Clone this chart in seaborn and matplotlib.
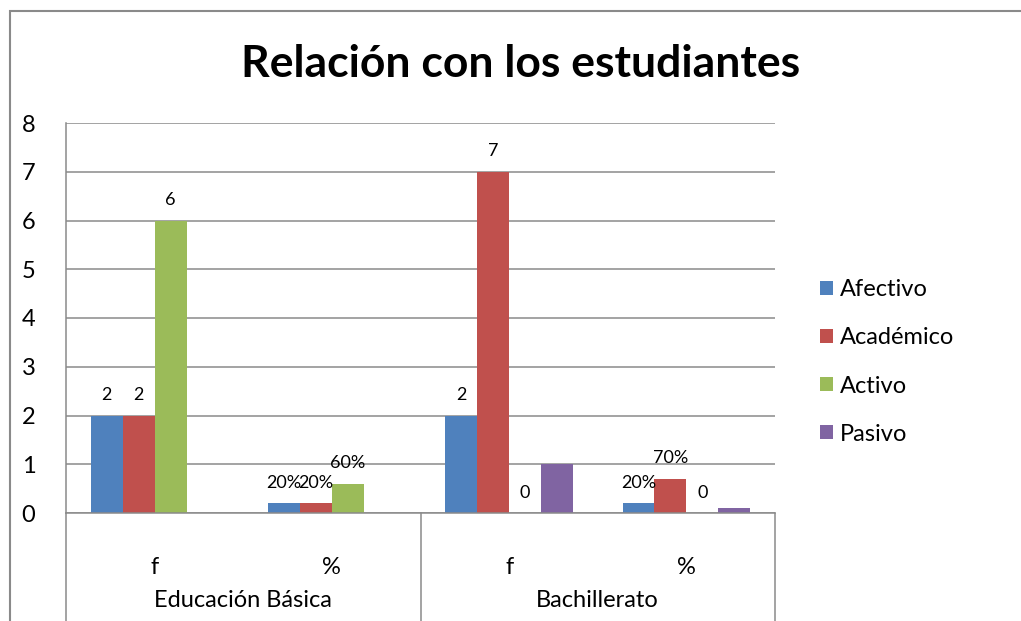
import numpy as np
import pandas as pd
import seaborn as sns
import matplotlib.pyplot as plt
from matplotlib.patches import Rectangle

# ---- data ----
groups = ["Educación Básica", "Educación Básica", "Bachillerato", "Bachillerato"]
measures = ["f", "%", "f", "%"]
series = ["Afectivo", "Académico", "Activo", "Pasivo"]
afectivo = [2, 0.2, 2, 0.2]
academico = [2, 0.2, 7, 0.7]
activo = [6, 0.6, 0, 0]
pasivo = [np.nan, np.nan, 1, 0.1]
labels_afectivo = ["2", "20%", "2", "20%"]
labels_academico = ["2", "20%", "7", "70%"]
labels_activo = ["6", "60%", "0", "0"]
yticks = [0, 1, 2, 3, 4, 5, 6, 7, 8]
colors = ["#4F81BD", "#C0504D", "#9BBB59", "#8064A2"]
title = "Relación con los estudiantes"

cats = [f"{g}|{m}" for g, m in zip(groups, measures)]
rows = []
for s, vals in zip(series, [afectivo, academico, activo, pasivo]):
    for c, v in zip(cats, vals):
        rows.append({"cat": c, "serie": s, "valor": v})
df = pd.DataFrame(rows)

sns.set_theme(style="white")
plt.rcParams['font.family'] = ['Lato', 'DejaVu Sans']
plt.rcParams['text.color'] = 'black'
plt.rcParams['xtick.color'] = 'black'
plt.rcParams['ytick.color'] = 'black'

fig = plt.figure(figsize=(10.21, 6.21), dpi=100)
ax = fig.add_axes([66/1021, 1-513/621, (775-66)/1021, 390/621])

sns.barplot(data=df, x="cat", y="valor", hue="serie", order=cats,
            hue_order=series, palette=colors, width=0.72, linewidth=0,
            saturation=1, ax=ax, errorbar=None, legend=True)

ax.set_xlim(-0.5, len(cats) - 0.5)
ax.set_ylim(yticks[0], yticks[-1])
ax.set_yticks(yticks)
ax.set_yticklabels([str(t) for t in yticks], fontsize=17)
ax.tick_params(axis="y", length=0, pad=22)
ax.yaxis.grid(True, color="#8a8a8a", linewidth=1.1)
ax.set_axisbelow(True)
ax.set_xlabel("")
ax.set_ylabel("")
ax.set_xticks(range(len(cats)))
ax.set_xticklabels(measures, fontsize=17)
ax.tick_params(axis="x", length=0, pad=32)
for sp in ["top", "right"]:
    ax.spines[sp].set_visible(False)
for sp in ["left", "bottom"]:
    ax.spines[sp].set_color("#8a8a8a")
    ax.spines[sp].set_linewidth(1.1)

# data labels
for cont, labs in zip(ax.containers[:3], [labels_afectivo, labels_academico, labels_activo]):
    ax.bar_label(cont, labels=labs, padding=9, fontsize=13, color="black")

# category axis box: separators and group labels
uniq = []
for g in groups:
    if g not in uniq:
        uniq.append(g)
n = len(cats)
bounds = [0]
for g in uniq:
    idx = [i for i, gg in enumerate(groups) if gg == g]
    bounds.append((max(idx) + 1) / n)
    ax.text((min(idx) + max(idx)) / 2, -0.225, g, transform=ax.get_xaxis_transform(),
            ha="center", va="center", fontsize=17)
for b in bounds:
    ax.plot([b, b], [0, -0.35], transform=ax.transAxes, color="#8a8a8a",
            linewidth=1.1, clip_on=False)

# legend
handles, labels = ax.get_legend_handles_labels()
ax.legend_.remove()
fig.legend(handles, labels, loc="center left", bbox_to_anchor=(0.782, 1-362/621),
           frameon=False, fontsize=17, handlelength=0.55, handleheight=0.55,
           handletextpad=0.3, labelspacing=1.15)

fig.text(0.51, 1-64/621, title, ha="center", va="center", fontsize=32,
         fontweight="bold", color="black")

fig.patches.append(Rectangle((10/1021, -0.1), 1.2, 1 - 11/621 + 0.1, transform=fig.transFigure,
                             fill=False, edgecolor="#8a8a8a", linewidth=1.5))

fig.savefig("out.png", dpi=100)
